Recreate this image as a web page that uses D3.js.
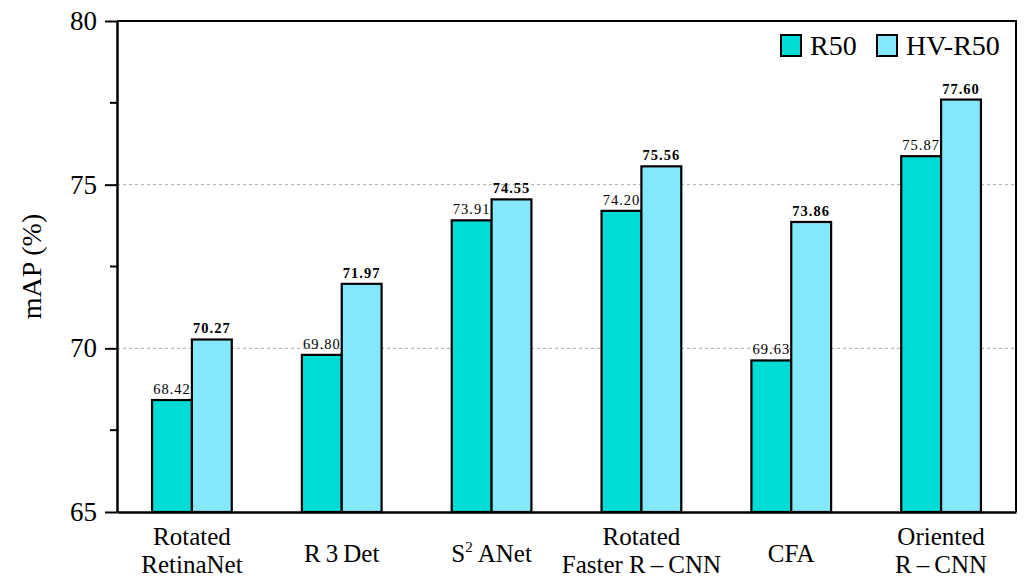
<!DOCTYPE html>
<html>
<head>
<meta charset="utf-8">
<script src="https://cdn.jsdelivr.net/npm/d3@7"></script>
<style>
  html, body { margin: 0; padding: 0; background: #fff; }
  svg { display: block; }
  svg text { font-family: "Liberation Serif", "DejaVu Serif", serif; }
</style>
</head>
<body>
<svg id="chart" width="1027" height="580"></svg>
<script>
// Detectors and their mAP (%) with two backbones
const categories = ["Rotated RetinaNet", "R3Det", "S2ANet", "Rotated Faster R-CNN", "CFA", "Oriented R-CNN"];
const r50Values = [68.42, 69.80, 73.91, 74.20, 69.63, 75.87];
const hvR50Values = [70.27, 71.97, 74.55, 75.56, 73.86, 77.60];
const seriesNames = ["R50", "HV-R50"];
const yMajorTicks = [65, 70, 75, 80];
const yMinorTicks = [67.5, 72.5, 77.5];
const gridValues = [70, 75];

const colors = { "R50": "#00dbd6", "HV-R50": "#85e7fb" };
const serif = "Liberation Serif";

const svg = d3.select("#chart");
const plotLeft = 117, plotRight = 1016, plotTop = 21, plotBottom = 512;

const x = d3.scaleBand().domain(categories).range([plotLeft, plotRight]).padding(0);
const y = d3.scaleLinear().domain([65, 80]).range([plotBottom, plotTop]);
const barW = x.bandwidth() * 0.266;

// dashed reference lines
svg.append("g").selectAll("line").data(gridValues).join("line")
  .attr("x1", plotLeft).attr("x2", plotRight)
  .attr("y1", d => y(d)).attr("y2", d => y(d))
  .attr("stroke", "#a8a8a8").attr("stroke-width", 1)
  .attr("stroke-dasharray", "3,3");

// bars
const series = [
  { name: "R50", values: r50Values, offset: -1, bold: false },
  { name: "HV-R50", values: hvR50Values, offset: 0, bold: true }
];

const gBars = svg.append("g");
series.forEach(s => {
  const bx = (d, i) => x(categories[i]) + x.bandwidth() / 2 + s.offset * barW;
  gBars.append("g").selectAll("rect").data(s.values).join("rect")
    .attr("x", bx)
    .attr("y", d => y(d))
    .attr("width", barW)
    .attr("height", d => y(65) - y(d))
    .attr("fill", colors[s.name])
    .attr("stroke", "#000")
    .attr("stroke-width", 2.2);
  gBars.append("g").selectAll("text").data(s.values).join("text")
    .attr("x", (d, i) => bx(d, i) + barW / 2)
    .attr("y", d => y(d) - 6)
    .attr("text-anchor", "middle")
    .attr("font-family", serif)
    .attr("font-size", 14.5)
    .attr("letter-spacing", 1)
    .attr("font-weight", s.bold ? "bold" : "normal")
    .attr("fill", "#000")
    .text(d => d.toFixed(2));
});

// frame: top and right edges
svg.append("path")
  .attr("d", `M${plotLeft},${plotTop}H${plotRight}V${plotBottom}`)
  .attr("fill", "none").attr("stroke", "#000").attr("stroke-width", 2);

// y axis
const yAxis = d3.axisLeft(y).tickValues(yMajorTicks).tickSize(12).tickSizeOuter(0).tickPadding(8);
const gy = svg.append("g").attr("transform", `translate(${plotLeft},0)`).call(yAxis)
  .attr("font-family", serif);
gy.select(".domain").attr("stroke-width", 2.5);
gy.selectAll(".tick line").attr("stroke-width", 2);
gy.selectAll(".tick text").attr("font-size", 27).attr("font-family", serif).attr("fill", "#000");
gy.selectAll(".minor").data(yMinorTicks).join("line")
  .attr("class", "minor")
  .attr("x1", -7).attr("x2", 0)
  .attr("y1", d => y(d)).attr("y2", d => y(d))
  .attr("stroke", "#000").attr("stroke-width", 2);

// x axis
const gx = svg.append("g").attr("transform", `translate(0,${plotBottom})`)
  .call(d3.axisBottom(x).tickSize(0).tickFormat(""));
gx.select(".domain").attr("stroke-width", 2.5);

// category labels
const labelLines = {
  "Rotated RetinaNet": ["Rotated", "RetinaNet"],
  "R3Det": ["R\u20093\u2009Det"],
  "S2ANet": null,
  "Rotated Faster R-CNN": ["Rotated", "Faster R\u2009\u2013\u2009CNN"],
  "CFA": ["CFA"],
  "Oriented R-CNN": ["Oriented", "R\u2009\u2013\u2009CNN"]
};
const gLab = svg.append("g")
  .attr("font-family", serif).attr("font-size", 25)
  .attr("text-anchor", "middle").attr("fill", "#000");
categories.forEach(c => {
  const cx = x(c) + x.bandwidth() / 2;
  const lines = labelLines[c];
  if (c === "S2ANet") {
    const t = gLab.append("text").attr("x", cx).attr("y", 562);
    t.append("tspan").text("S");
    t.append("tspan").attr("font-size", 15).attr("dy", -10).text("2");
    t.append("tspan").attr("dy", 10).text("\u2009ANet");
    return;
  }
  if (lines.length === 1) {
    gLab.append("text").attr("x", cx).attr("y", 562).text(lines[0]);
  } else {
    gLab.append("text").attr("x", cx).attr("y", 545).text(lines[0]);
    gLab.append("text").attr("x", cx).attr("y", 573).text(lines[1]);
  }
});

// y axis title
svg.append("text")
  .attr("transform", `translate(41,${(plotTop + plotBottom) / 2}) rotate(-90)`)
  .attr("text-anchor", "middle")
  .attr("font-family", serif)
  .attr("font-size", 28)
  .attr("fill", "#000")
  .text("mAP (%)");

// legend
const legendItems = [
  { name: seriesNames[0], x: 781 },
  { name: seriesNames[1], x: 877 }
];
const gLeg = svg.append("g");
legendItems.forEach(it => {
  gLeg.append("rect")
    .attr("x", it.x).attr("y", 35).attr("width", 20).attr("height", 21)
    .attr("fill", colors[it.name]).attr("stroke", "#000").attr("stroke-width", 2);
  gLeg.append("text")
    .attr("x", it.x + 29).attr("y", 55)
    .attr("font-family", serif)
    .attr("font-size", 28).attr("fill", "#000")
    .text(it.name);
});
</script>
</body>
</html>
